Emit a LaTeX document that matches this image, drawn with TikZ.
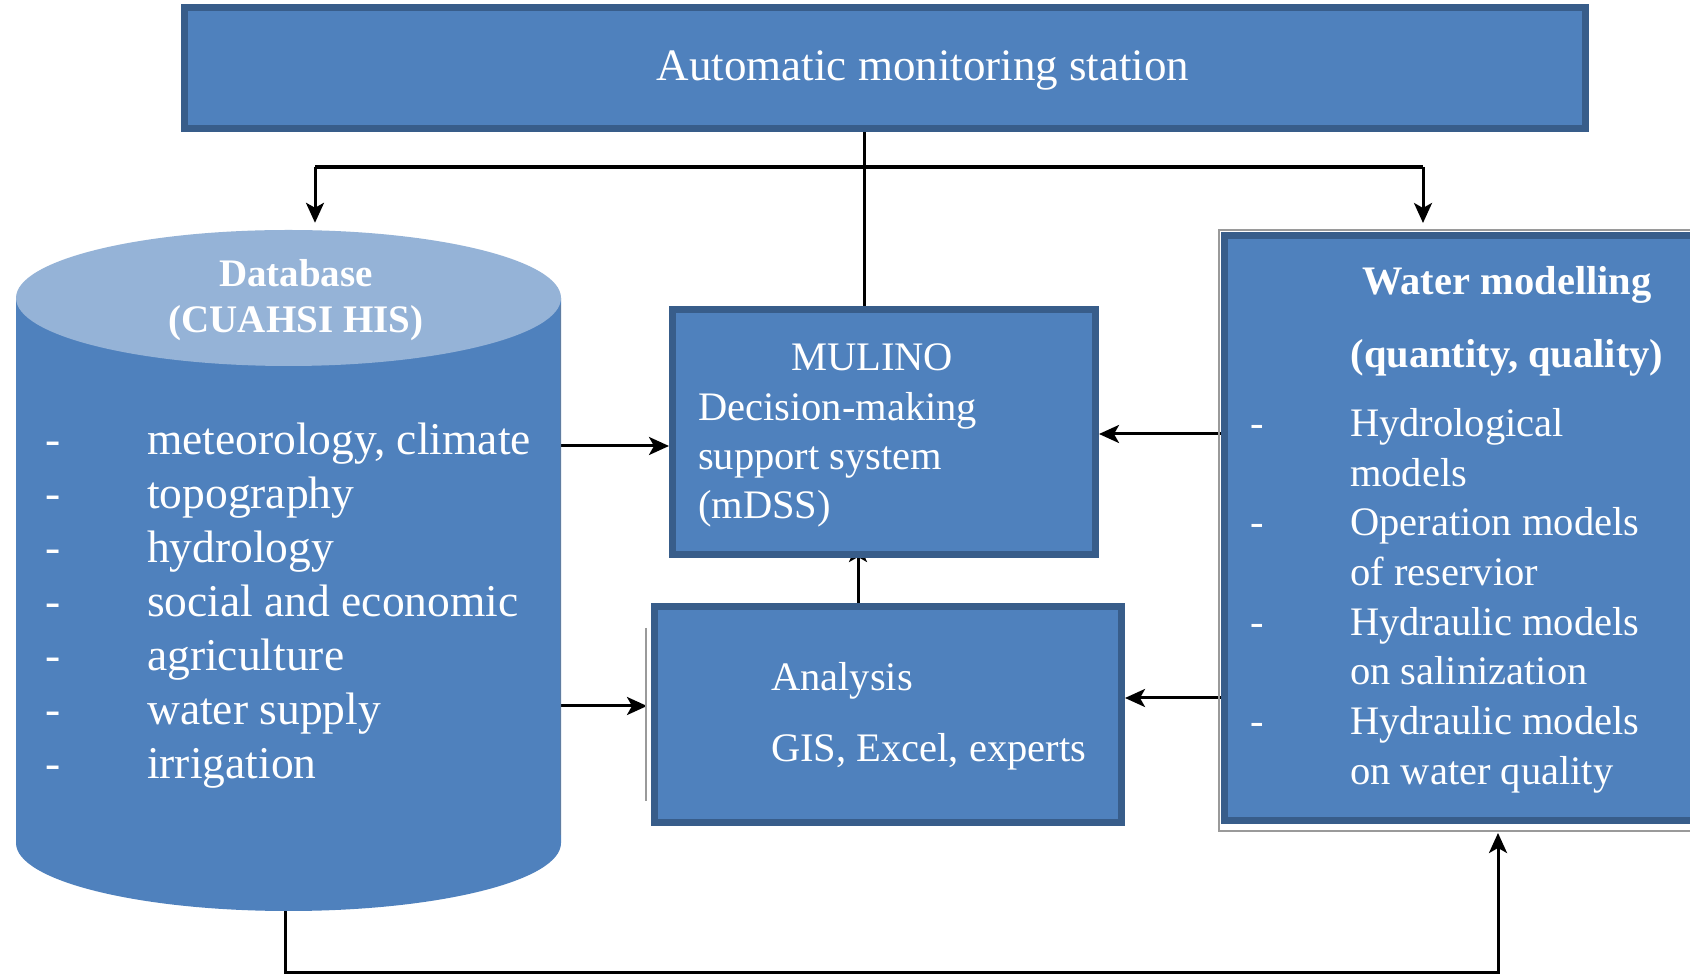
\documentclass[tikz,border=0pt]{standalone}
\usepackage{fontspec}
\setmainfont{Liberation Serif}
\usetikzlibrary{arrows.meta}
\pgfdeclarelayer{base}
\pgfdeclarelayer{background}
\pgfsetlayers{base,background,main}
\definecolor{boxfill}{HTML}{4F81BD}
\definecolor{boxline}{HTML}{385D8A}
\definecolor{captop}{HTML}{95B3D7}
\definecolor{shadowgray}{HTML}{9A9A9A}
\tikzset{
  panel/.style={draw=boxline, fill=boxfill, line width=7pt, inner sep=0pt},
  conn/.style={line width=3pt, black},
  arr/.style={conn, -{Stealth[length=20pt,width=18pt,inset=5pt]}},
  lbl/.style={anchor=base west, inner sep=0pt, text=white},
  ctr/.style={anchor=base, inner sep=0pt, text=white},
  listfont/.style={font=\fontsize{45.5}{54}\selectfont},
  boxfont/.style={font=\fontsize{40.5}{49}\selectfont},
  headfont/.style={font=\bfseries\fontsize{40.5}{49}\selectfont},
}
\begin{document}
\begin{tikzpicture}[x=1pt,y=1pt]
\clip (0,0) rectangle (1690,975);
\begin{pgfonlayer}{base}
  \fill[white] (0,0) rectangle (1690,975);
\end{pgfonlayer}

% ---- boxes ----
\node[panel, minimum width=1401, minimum height=121] (ams) at (885,907) {};
\node[panel, minimum width=423, minimum height=245] (mul) at (884,543) {};
\draw[shadowgray, line width=2pt] (646,347) -- (646,174);
\node[panel, minimum width=467, minimum height=216] (ana) at (888,260.5) {};
\draw[shadowgray, line width=2pt] (1700,745) -- (1219,745) -- (1219,144) -- (1700,144);
\node[panel, minimum width=533, minimum height=585] (wm) at (1491,447) {};

% ---- database cylinder ----
\fill[boxfill] (16,677) -- (16,132)
  arc[start angle=180, end angle=360, x radius=272.5, y radius=68]
  -- (561,677) -- cycle;
\draw[boxline!80, line width=1.5pt] (560.5,670) -- (560.5,140);
\fill[captop] (288.5,677) ellipse[x radius=272.5, y radius=68];
\node[inner sep=0pt, minimum width=545, minimum height=681] (db) at (288.5,404.5) {};

% ---- connectors ----
\coordinate (jx) at (864,808);
\coordinate (ldrop) at (315,808);
\coordinate (rdrop) at (1423,808);
\coordinate (ax) at (858,0);
\coordinate (yA) at (0,529);
\coordinate (yB) at (0,541);
\coordinate (yC) at (0,277);
\coordinate (yD) at (0,269);
\coordinate (bl) at (285,3);
\coordinate (br) at (1498,3);
\begin{pgfonlayer}{background}
  \draw[conn] (jx |- ams.south) -- (jx |- mul.north);
  \draw[conn, line width=3.4pt] (ldrop) -- (rdrop);
  \draw[arr, shorten >=7pt] (ldrop) -- (ldrop |- db.north);
  \draw[arr, shorten >=9pt] (rdrop) -- (rdrop |- wm.north);
  \draw[arr] (db.east |- yA) -- (mul.west |- yA);
  \draw[arr, shorten >=4pt] (db.east |- yD) -- (ana.west |- yD);
  \draw[arr] (wm.west |- yB) -- (mul.east |- yB);
  \draw[arr] (wm.west |- yC) -- (ana.east |- yC);
  \draw[arr, shorten >=-16pt] (ax |- ana.north) -- (ax |- mul.south);
  \draw[arr, shorten >=9pt] (bl |- db.south) -- (bl) -- (br) -- (br |- wm.south);
\end{pgfonlayer}

% ---- texts ----
\node[ctr, font=\fontsize{45}{54}\selectfont] (t-ams) at (923,894) {Automatic monitoring station};

\node[ctr, font=\bfseries\fontsize{39}{46}\selectfont] (t-db1) at (296,688) {Database};
\node[ctr, font=\bfseries\fontsize{39}{46}\selectfont] (t-db2) at (296,642) {(CUAHSI HIS)};
\node[lbl, listfont] (db-1) at (45,520) {\makebox[102pt][l]{-}meteorology, climate};
\node[lbl, listfont] (db-2) at (45,466) {\makebox[102pt][l]{-}topography};
\node[lbl, listfont] (db-3) at (45,412) {\makebox[102pt][l]{-}hydrology};
\node[lbl, listfont] (db-4) at (45,358) {\makebox[102pt][l]{-}social and economic};
\node[lbl, listfont] (db-5) at (45,304) {\makebox[102pt][l]{-}agriculture};
\node[lbl, listfont] (db-6) at (45,250) {\makebox[102pt][l]{-}water supply};
\node[lbl, listfont] (db-7) at (45,196) {\makebox[102pt][l]{-}irrigation};

\node[ctr, boxfont] (t-mul1) at (872,604) {MULINO};
\node[lbl, boxfont] (t-mul2) at (698,554) {Decision-making};
\node[lbl, boxfont] (t-mul3) at (698,505) {support system};
\node[lbl, boxfont] (t-mul4) at (698,456) {(mDSS)};

\node[lbl, boxfont] (t-ana1) at (771,284) {Analysis};
\node[lbl, boxfont] (t-ana2) at (771,213) {GIS, Excel, experts};

\node[ctr, headfont] (t-wm1) at (1507,680) {Water modelling};
\node[ctr, headfont] (t-wm2) at (1507,607) {(quantity, quality)};
\node[lbl, boxfont] (wm-1) at (1250,538) {\makebox[100pt][l]{-}Hydrological};
\node[lbl, boxfont] (wm-2) at (1350,488) {models};
\node[lbl, boxfont] (wm-3) at (1250,439) {\makebox[100pt][l]{-}Operation models};
\node[lbl, boxfont] (wm-4) at (1350,389) {of reservior};
\node[lbl, boxfont] (wm-5) at (1250,339) {\makebox[100pt][l]{-}Hydraulic models};
\node[lbl, boxfont] (wm-6) at (1350,290) {on salinization};
\node[lbl, boxfont] (wm-7) at (1250,240) {\makebox[100pt][l]{-}Hydraulic models};
\node[lbl, boxfont] (wm-8) at (1350,190) {on water quality};
\end{tikzpicture}
\end{document}
